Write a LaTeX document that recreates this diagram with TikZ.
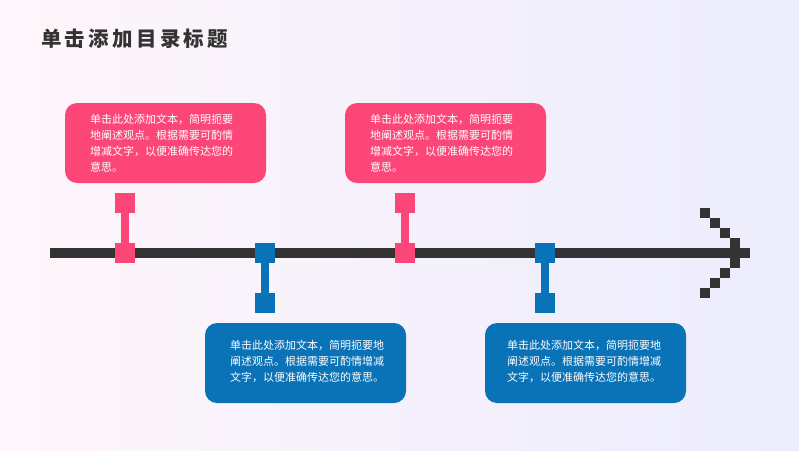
\documentclass[tikz,border=0pt]{standalone}
\usepackage{fontspec}
\newfontfamily\cjk{Noto Sans CJK SC}
\newfontfamily\titlefont[LetterSpace=16]{Noto Sans CJK SC}
\definecolor{pinkc}{RGB}{253,70,120}
\definecolor{bluec}{RGB}{10,114,182}
\definecolor{darkc}{RGB}{51,51,51}
\definecolor{bgleft}{RGB}{255,246,251}
\definecolor{bgright}{RGB}{236,236,252}
\begin{document}
\begin{tikzpicture}[x=1pt,y=-1pt,
  card/.style={rectangle,rounded corners=12pt,minimum width=201pt,minimum height=80pt,inner sep=0pt,draw=none},
  pinkcard/.style={card,fill=pinkc},
  bluecard/.style={card,fill=bluec},
  bodytext/.style={inner sep=0pt,anchor=west,align=left,text=white,font=\cjk\fontsize{11pt}{16pt}\selectfont},
  sq/.style={rectangle,minimum size=20pt,inner sep=0pt,draw=none},
  pinksq/.style={sq,fill=pinkc},
  bluesq/.style={sq,fill=bluec},
  pix/.style={rectangle,minimum size=10pt,inner sep=0pt,fill=darkc,draw=none},
  stem/.style={line width=8pt},
]
\useasboundingbox (0,0) rectangle (799,450);
\shade[left color=bgleft,right color=bgright] (0,0) rectangle (799,450);

% title
\node[anchor=west,inner sep=0pt,text=darkc,font=\titlefont\bfseries\fontsize{20.5pt}{24pt}\selectfont] (title) at (41,38.5) {单击添加目录标题};

% timeline
\coordinate (lstart) at (50,253);
\coordinate (lend) at (750,253);
\draw[darkc,line width=10pt] (lstart) -- (lend);

% arrow head pixels
\foreach \i/\x/\y in {1/705/213,2/715/223,3/725/233,4/735/243,5/735/263,6/725/273,7/715/283,8/705/293}
  \node[pix] (px\i) at (\x,\y) {};

% connectors
\node[pinksq] (p1t) at (125,203) {};
\node[pinksq] (p1b) at (125,253) {};
\draw[stem,pinkc] (p1t) -- (p1b);
\node[pinksq] (p2t) at (405,203) {};
\node[pinksq] (p2b) at (405,253) {};
\draw[stem,pinkc] (p2t) -- (p2b);
\node[bluesq] (b1t) at (265,253) {};
\node[bluesq] (b1b) at (265,303) {};
\draw[stem,bluec] (b1t) -- (b1b);
\node[bluesq] (b2t) at (545,253) {};
\node[bluesq] (b2b) at (545,303) {};
\draw[stem,bluec] (b2t) -- (b2b);

% cards
\node[pinkcard] (c1) at (165.5,143) {};
\node[bodytext] (t1) at ([xshift=25pt]c1.west) {单击此处添加文本，简明扼要\\地阐述观点。根据需要可酌情\\增减文字，以便准确传达您的\\意思。};
\node[pinkcard] (c2) at (445.5,143) {};
\node[bodytext] (t2) at ([xshift=25pt]c2.west) {单击此处添加文本，简明扼要\\地阐述观点。根据需要可酌情\\增减文字，以便准确传达您的\\意思。};
\node[bluecard] (c3) at (305.5,363) {};
\node[bodytext] (t3) at ([xshift=25pt,yshift=2pt]c3.west) {单击此处添加文本，简明扼要地\\阐述观点。根据需要可酌情增减\\文字，以便准确传达您的意思。};
\node[bluecard] (c4) at (585.5,363) {};
\node[bodytext] (t4) at ([xshift=22pt,yshift=2pt]c4.west) {单击此处添加文本，简明扼要地\\阐述观点。根据需要可酌情增减\\文字，以便准确传达您的意思。};
\end{tikzpicture}
\end{document}
